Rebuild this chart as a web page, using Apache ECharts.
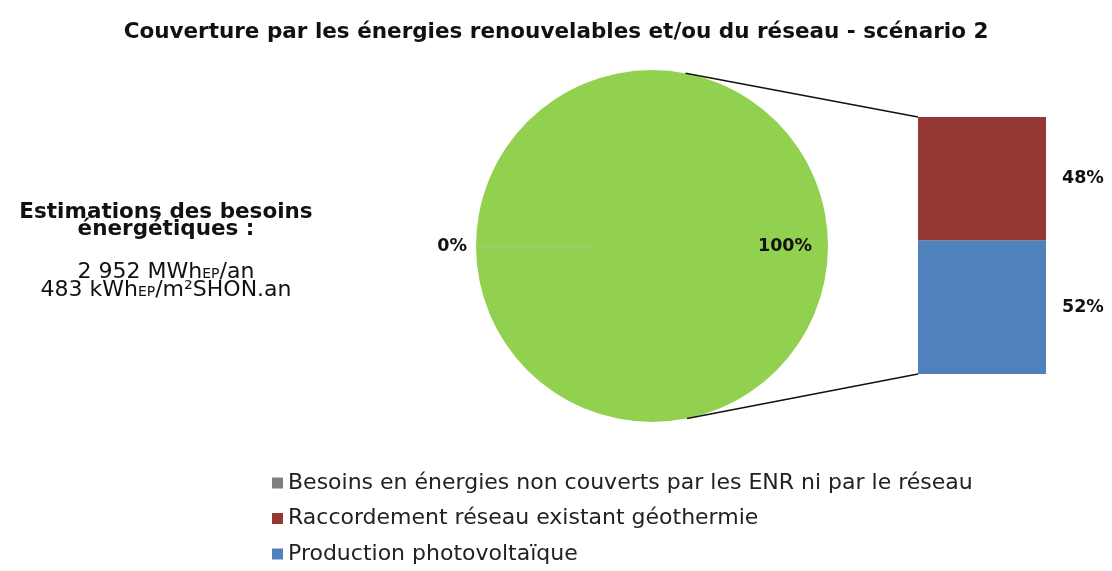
<!DOCTYPE html>
<html>
<head>
<meta charset="utf-8">
<script src="https://cdn.jsdelivr.net/npm/echarts@6/dist/echarts.min.js"></script>
<style>
  html, body { margin: 0; padding: 0; background: #ffffff; }
  #chart { width: 1112px; height: 571px; }
</style>
</head>
<body>
<div id="chart"></div>
<script>
// Shares of the energy needs (scenario 2)
const pieNames = ['Besoins en énergies non couverts par les ENR ni par le réseau', 'Couverture ENR et réseau'];
const pieValues = [0, 100];
const barNames = ['Raccordement réseau existant géothermie', 'Production photovoltaïque'];
const barValues = [48, 52];
const legendNames = [pieNames[0], barNames[0], barNames[1]];

const FONT = '"DejaVu Sans", "Liberation Sans", Arial, sans-serif';
const COLORS = { gray: '#7f7f7f', green: '#92d050', red: '#953735', blue: '#4f81bd' };

// layout of the pie and the breakdown column
const PIE = { cx: 652, cy: 246, r: 176 };
const GRID = { left: 918, top: 117, width: 128, height: 257 };

const chart = echarts.init(document.getElementById('chart'), null, { renderer: 'canvas' });

// point on the pie rim at a given angle (degrees, counterclockwise from east)
function rim(deg) {
  const a = deg * Math.PI / 180;
  return [PIE.cx + PIE.r * Math.cos(a), PIE.cy - PIE.r * Math.sin(a)];
}
const upper = rim(79);
const lower = rim(-78.5);

const valueLabel = {
  fontFamily: FONT, fontSize: 17.5, fontWeight: 'bold', color: '#111'
};

chart.setOption({
  animation: false,
  title: {
    text: 'Couverture par les énergies renouvelables et/ou du réseau - scénario 2',
    left: 'center',
    top: 16,
    textStyle: { fontFamily: FONT, fontSize: 21.5, fontWeight: 'bold', color: '#111' }
  },
  legend: {
    data: legendNames,
    orient: 'vertical',
    left: 272,
    top: 472,
    padding: 0,
    icon: 'rect',
    itemWidth: 11,
    itemHeight: 11,
    itemGap: 13.5,
    textStyle: { fontFamily: FONT, fontSize: 22, color: '#222', lineHeight: 22 }
  },
  grid: { left: GRID.left, top: GRID.top, width: GRID.width, height: GRID.height, containLabel: false },
  xAxis: { type: 'category', data: ['Répartition'], show: false },
  yAxis: { type: 'value', min: 0, max: 100, show: false },
  color: [COLORS.gray, COLORS.red, COLORS.blue],
  series: [
    {
      type: 'pie',
      center: [PIE.cx, PIE.cy],
      radius: PIE.r,
      startAngle: 180,
      clockwise: true,
      avoidLabelOverlap: false,
      data: pieNames.map((n, i) => ({
        name: n,
        value: pieValues[i],
        itemStyle: { color: i === 0 ? COLORS.gray : COLORS.green },
        label: i === 0
          ? { position: 'outside', distanceToLabelLine: 0 }
          : { position: 'inside' }
      })),
      label: Object.assign({ formatter: '{d}%' }, valueLabel),
      labelLine: { show: false, length: 4, length2: 4 },
      labelLayout: function (p) {
        return p.dataIndex === 1 ? { dx: 42 } : { dx: -1 };
      },
      emphasis: { disabled: true }
    },
    {
      type: 'bar',
      name: barNames[1],
      stack: 'mix',
      barWidth: '100%',
      data: [barValues[1]],
      itemStyle: { color: COLORS.blue },
      label: Object.assign({ show: true, position: 'right', distance: 16, formatter: '{c}%' }, valueLabel)
    },
    {
      type: 'bar',
      name: barNames[0],
      stack: 'mix',
      barWidth: '100%',
      data: [barValues[0]],
      itemStyle: { color: COLORS.red },
      label: Object.assign({ show: true, position: 'right', distance: 16, formatter: '{c}%' }, valueLabel)
    }
  ],
  graphic: [
    // hairline of the empty slice
    {
      type: 'line', silent: true, z: 10,
      shape: { x1: PIE.cx - PIE.r, y1: PIE.cy, x2: PIE.cx - 57, y2: PIE.cy },
      style: { stroke: '#a9c98c', lineWidth: 1 }
    },
    // connectors from the pie to the breakdown column
    {
      type: 'line', silent: true, z: 10,
      shape: { x1: upper[0], y1: upper[1], x2: GRID.left, y2: GRID.top },
      style: { stroke: '#111', lineWidth: 1.5 }
    },
    {
      type: 'line', silent: true, z: 10,
      shape: { x1: lower[0], y1: lower[1], x2: GRID.left, y2: GRID.top + GRID.height },
      style: { stroke: '#111', lineWidth: 1.5 }
    },
    // energy needs estimate
    {
      type: 'text', silent: true,
      x: 166, y: 204,
      style: {
        text: '{b|Estimations des besoins}\n{b|énergétiques :}\n{g|}\n{n|2 952 MWh}{s|EP}{n|/an}\n{n|483 kWh}{s|EP}{n|/m²SHON.an}',
        fill: '#111',
        align: 'center',
        verticalAlign: 'top',
        fontFamily: FONT,
        rich: {
          b: { fontFamily: FONT, fontSize: 21.5, fontWeight: 'bold', lineHeight: 17 },
          g: { fontSize: 4, lineHeight: 25 },
          n: { fontFamily: FONT, fontSize: 22, lineHeight: 18 },
          s: { fontFamily: FONT, fontSize: 14, lineHeight: 18, verticalAlign: 'bottom', padding: [7, 0, 0, 0] }
        }
      }
    }
  ]
});
</script>
</body>
</html>
